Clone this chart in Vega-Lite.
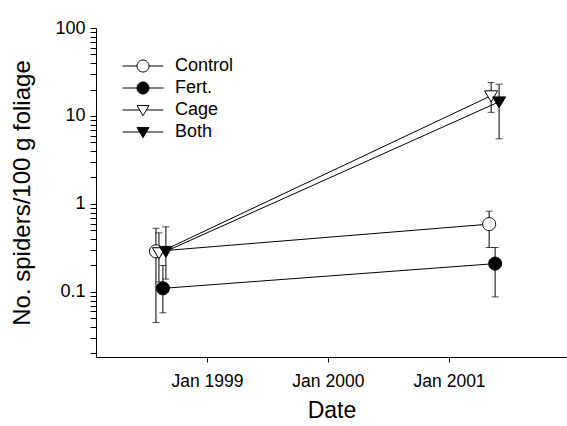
{
  "$schema": "https://vega.github.io/schema/vega-lite/v6.json",
  "width": 471,
  "height": 329,
  "autosize": {"type": "none"},
  "padding": {"left": 96, "top": 28, "right": 0, "bottom": 69},
  "background": "white",
  "config": {
    "view": {"stroke": null},
    "font": "Liberation Sans",
    "axis": {
      "domainColor": "black",
      "tickColor": "black",
      "labelColor": "black",
      "titleColor": "black",
      "labelFont": "Liberation Sans",
      "titleFont": "Liberation Sans",
      "titleFontWeight": "normal",
      "grid": false
    },
    "axisX": {"format": "%b %Y", "formatType": "utc", "tickSize": 5, "labelFontSize": 17.5, "labelPadding": 10, "titleFontSize": 23, "titlePadding": 10, "labelOverlap": false},
    "axisY": {"tickSize": 6, "labelFontSize": 18, "labelPadding": 5, "titleFontSize": 24, "titlePadding": 20, "labelOverlap": false, "labelBound": false, "labelFlush": false},
    "legend": {"labelFont": "Liberation Sans", "labelColor": "black"}
  },
  "data": {
    "values": [
      {"series": "Control", "date": "1998-07-31", "value": 0.29, "lo": 0.045, "hi": 0.53},
      {"series": "Control", "date": "2001-05-02", "value": 0.59, "lo": 0.32, "hi": 0.83},
      {"series": "Fert.", "date": "1998-08-21", "value": 0.11, "lo": 0.058, "hi": 0.2},
      {"series": "Fert.", "date": "2001-05-20", "value": 0.21, "lo": 0.088, "hi": 0.32},
      {"series": "Cage", "date": "1998-08-09", "value": 0.28, "lo": 0.13, "hi": 0.47},
      {"series": "Cage", "date": "2001-05-08", "value": 17, "lo": 11, "hi": 24},
      {"series": "Both", "date": "1998-08-30", "value": 0.29, "lo": 0.14, "hi": 0.55},
      {"series": "Both", "date": "2001-06-01", "value": 14.5, "lo": 5.5, "hi": 23}
    ]
  },
  "encoding": {
    "x": {"field": "date", "type": "temporal", "title": "Date",
      "scale": {"type": "utc", "domain": [{"year": 1998, "month": 1, "date": 31, "utc": true}, {"year": 2001, "month": 12, "date": 23, "utc": true}]},
      "axis": {
        "values": [{"year": 1999, "month": 1, "date": 1, "utc": true}, {"year": 2000, "month": 1, "date": 1, "utc": true}, {"year": 2001, "month": 1, "date": 1, "utc": true}],
        "format": "%b %Y", "formatType": "utc"
      }},
    "y": {"field": "value", "type": "quantitative", "title": "No. spiders/100 g foliage",
      "scale": {"type": "log", "domain": [0.01824, 100]},
      "axis": {
        "values": [0.02, 0.03, 0.04, 0.05, 0.06, 0.07, 0.08, 0.09, 0.1, 0.2, 0.3, 0.4, 0.5, 0.6, 0.7, 0.8, 0.9, 1, 2, 3, 4, 5, 6, 7, 8, 9, 10, 20, 30, 40, 50, 60, 70, 80, 90, 100],
        "format": "~g",
        "labelExpr": "indexof([0.1, 1, 10, 100], datum.value) >= 0 ? datum.label : ''",
        "encode": {"ticks": {"x2": {"value": {"expr": "indexof([0.1, 1, 10, 100], datum.value) >= 0 ? -6 : -3"}}}}
      }}
  },
  "layer": [
    {
      "mark": {"type": "line", "color": "black", "strokeWidth": 1},
      "encoding": {"detail": {"field": "series"}}
    },
    {
      "mark": {"type": "errorbar", "color": "black", "ticks": {"size": 7, "color": "black"}, "rule": {"strokeWidth": 1, "color": "black"}},
      "encoding": {
        "y": {"field": "lo", "type": "quantitative", "title": "No. spiders/100 g foliage",
          "scale": {"type": "log", "domain": [0.01824, 100]}},
        "y2": {"field": "hi"}
      }
    },
    {
      "mark": {"type": "point", "filled": true, "stroke": "black", "strokeWidth": 1, "size": 170, "opacity": 1},
      "encoding": {
        "shape": {"field": "series", "type": "nominal",
          "scale": {"domain": ["Control", "Fert.", "Cage", "Both"], "range": ["M-1,0A1,1 0 1,1 1,0A1,1 0 1,1 -1,0Z", "M-1,0A1,1 0 1,1 1,0A1,1 0 1,1 -1,0Z", "M-1,-0.75L1,-0.75L0,0.95Z", "M-1,-0.75L1,-0.75L0,0.95Z"]},
          "legend": null},
        "fill": {"field": "series", "type": "nominal",
          "scale": {"domain": ["Control", "Fert.", "Cage", "Both"], "range": ["white", "black", "white", "black"]},
          "legend": null}
      }
    },
    {
      "mark": {"type": "point", "filled": true, "size": 144, "opacity": 0},
      "encoding": {
        "shape": {"field": "series", "type": "nominal",
          "scale": {"domain": ["Control", "Fert.", "Cage", "Both"], "range": ["M-3.4,0H-1M1,0H3.4M-1,0A1,1 0 1,1 1,0A1,1 0 1,1 -1,0Z", "M-3.4,0H-1M1,0H3.4M-1,0A1,1 0 1,1 1,0A1,1 0 1,1 -1,0Z", "M-3.4,0H-0.56M0.56,0H3.4M-1,-0.75L1,-0.75L0,0.95Z", "M-3.4,0H-0.56M0.56,0H3.4M-1,-0.75L1,-0.75L0,0.95Z"]},
          "legend": {"title": null, "orient": "none", "legendX": 38, "legendY": 29, "padding": 0,
            "labelFontSize": 18, "labelOffset": 23, "rowPadding": 4, "symbolSize": 144, "symbolOpacity": 1, "symbolStrokeWidth": 1}},
        "fill": {"field": "series", "type": "nominal",
          "scale": {"domain": ["Control", "Fert.", "Cage", "Both"], "range": ["white", "black", "white", "black"]},
          "legend": {"title": null, "orient": "none", "legendX": 38, "legendY": 29, "padding": 0,
            "labelFontSize": 18, "labelOffset": 23, "rowPadding": 4, "symbolSize": 144, "symbolOpacity": 1, "symbolStrokeWidth": 1}},
        "stroke": {"field": "series", "type": "nominal",
          "scale": {"domain": ["Control", "Fert.", "Cage", "Both"], "range": ["black", "black", "black", "black"]},
          "legend": {"title": null, "orient": "none", "legendX": 38, "legendY": 29, "padding": 0,
            "labelFontSize": 18, "labelOffset": 23, "rowPadding": 4, "symbolSize": 144, "symbolOpacity": 1, "symbolStrokeWidth": 1}}
      }
    }
  ],
  "resolve": {"scale": {"shape": "independent", "fill": "independent", "stroke": "independent"}}
}
